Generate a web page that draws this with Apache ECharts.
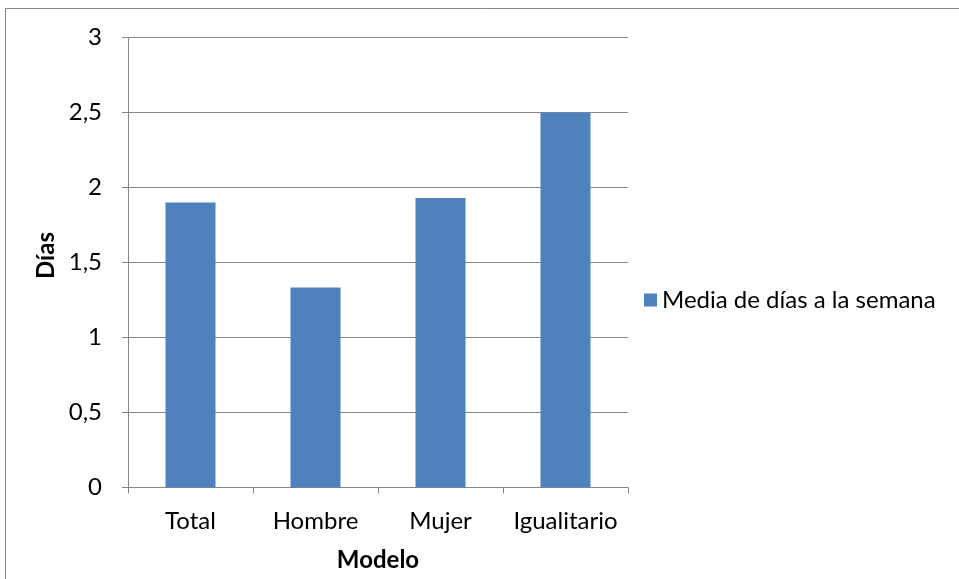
<!DOCTYPE html>
<html>
<head>
<meta charset="utf-8">
<script src="https://cdn.jsdelivr.net/npm/echarts@6/dist/echarts.min.js"></script>
<style>
  html, body { margin: 0; padding: 0; background: #fff; }
  #chart { width: 959px; height: 579px; }
</style>
</head>
<body>
<div id="chart"></div>
<script>
// Mean number of days per week, by household model
const categories = ['Total', 'Hombre', 'Mujer', 'Igualitario'];
const seriesName = 'Media de días a la semana';
const values = [1.9, 1.333, 1.93, 2.5];
const yTicks = [0, 0.5, 1, 1.5, 2, 2.5, 3];

const FONT = 'Lato, "Open Sans", sans-serif';
const FONT_SIZE = 24;
const GRID_GRAY = '#868686';

const chart = echarts.init(document.getElementById('chart'), null, { renderer: 'canvas' });

chart.setOption({
  backgroundColor: '#fff',
  animation: false,
  graphic: [{
    type: 'rect',
    shape: { x: 5.5, y: 8.5, width: 1000, height: 1000 },
    style: { fill: 'none', stroke: GRID_GRAY, lineWidth: 1 },
    silent: true
  }],
  legend: {
    orient: 'vertical',
    left: 639,
    top: 283,
    itemWidth: 13,
    itemHeight: 13,
    itemGap: 8,
    icon: 'rect',
    textStyle: { fontFamily: FONT, fontSize: FONT_SIZE, color: '#000' },
    data: [seriesName]
  },
  grid: { left: 128, top: 37.5, width: 500, height: 450 },
  xAxis: {
    type: 'category',
    data: categories,
    name: 'Modelo',
    nameLocation: 'middle',
    nameGap: 61,
    nameTextStyle: { fontFamily: FONT, fontSize: FONT_SIZE, fontWeight: 'bold', color: '#000' },
    axisLine: { lineStyle: { color: GRID_GRAY, width: 1 } },
    axisTick: { show: true, length: 6, interval: 0, alignWithLabel: false, lineStyle: { color: GRID_GRAY } },
    axisLabel: { fontFamily: FONT, fontSize: FONT_SIZE, color: '#000', margin: 22, interval: 0, hideOverlap: false }
  },
  yAxis: {
    type: 'value',
    min: 0,
    max: 3,
    interval: 0.5,
    name: 'Días',
    nameLocation: 'middle',
    nameGap: 70,
    nameRotate: 90,
    nameTextStyle: {
      fontFamily: FONT, fontSize: FONT_SIZE, fontWeight: 'bold', color: '#000',
      padding: [0, 0, 0, 14]
    },
    axisLine: { show: true, lineStyle: { color: GRID_GRAY, width: 1 } },
    axisTick: { show: true, length: 6, lineStyle: { color: GRID_GRAY } },
    splitLine: { show: true, lineStyle: { color: GRID_GRAY, width: 1 } },
    axisLabel: {
      fontFamily: FONT, fontSize: FONT_SIZE, color: '#000', margin: 26,
      formatter: v => (yTicks.includes(v) ? String(v).replace('.', ',') : '')
    }
  },
  series: [{
    name: seriesName,
    type: 'bar',
    data: values,
    barWidth: 50,
    itemStyle: { color: '#4f81bd' }
  }]
});
</script>
</body>
</html>
